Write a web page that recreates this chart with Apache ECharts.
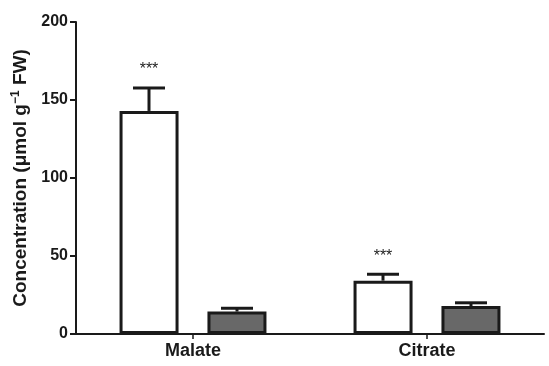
<!DOCTYPE html>
<html><head><meta charset="utf-8">
<script src="https://cdn.jsdelivr.net/npm/echarts@6/dist/echarts.min.js"></script>
<style>html,body{margin:0;padding:0;background:#fff}#c{width:549px;height:366px}</style>
</head><body><div id="c"></div>
<script>
const categories = ['Malate', 'Citrate'];
const whiteValues = [143, 34.2];
const whiteErrors = [14.7, 4.1];
const greyValues = [14.4, 17.9];
const greyErrors = [2.1, 2.1];
const significance = ['***', '***'];
const yTicks = [0, 50, 100, 150, 200];

const chart = echarts.init(document.getElementById('c'), null, {renderer: 'canvas'});
const BAR_W = 59, OFFSET = 44, CAP = 32;
const FONT = '"Liberation Sans", Arial';

function errItem(values, errors, sign, marks) {
  return function (params, api) {
    const i = api.value(0);
    const v = values[i], e = errors[i];
    const base = api.coord([i, v]);
    const top = api.coord([i, v + e]);
    const x = base[0] + sign * OFFSET;
    const children = [
      {type: 'line', shape: {x1: x, y1: base[1], x2: x, y2: top[1]}, style: {stroke: '#1a1a1a', lineWidth: 3}},
      {type: 'line', shape: {x1: x - CAP / 2, y1: top[1], x2: x + CAP / 2, y2: top[1]}, style: {stroke: '#1a1a1a', lineWidth: 3}}
    ];
    if (marks) {
      children.push({type: 'text', x: x, y: top[1] - 18, style: {text: marks[i], fill: '#222', font: '16px ' + FONT, align: 'center', verticalAlign: 'middle'}});
    }
    return {type: 'group', children: children};
  };
}

chart.setOption({
  animation: false,
  grid: {left: 76, right: 5, top: 22, bottom: 32},
  xAxis: {
    type: 'category', data: categories,
    axisLine: {lineStyle: {color: '#1a1a1a', width: 2}},
    axisTick: {show: true, alignWithLabel: true, length: 5, lineStyle: {color: '#1a1a1a', width: 1.5}},
    axisLabel: {color: '#1a1a1a', fontSize: 18, fontWeight: 'bold', fontFamily: FONT, margin: 8}
  },
  yAxis: {
    type: 'value', min: 0, max: 200, interval: 50,
    axisLine: {show: true, lineStyle: {color: '#1a1a1a', width: 2}},
    axisTick: {show: true, length: 6, lineStyle: {color: '#1a1a1a', width: 2}},
    splitLine: {show: false},
    axisLabel: {color: '#1a1a1a', fontSize: 16, fontWeight: 'bold', fontFamily: FONT, margin: 8,
      formatter: v => yTicks.includes(v) ? String(v) : ''},
    name: '{a|Concentration (μmol g}{s|−1}{a| FW)}',
    nameLocation: 'middle', nameGap: 36, nameRotate: 90,
    nameTextStyle: {
      rich: {
        a: {fontSize: 19, fontWeight: 'bold', color: '#1a1a1a', fontFamily: FONT},
        s: {fontSize: 12, fontWeight: 'bold', color: '#1a1a1a', fontFamily: FONT, verticalAlign: 'top', padding: [0, 0, 10, 0]}
      }
    }
  },
  series: [
    {type: 'bar', data: whiteValues, barWidth: BAR_W, barGap: '49%',
      itemStyle: {color: '#ffffff', borderColor: '#1a1a1a', borderWidth: 3}},
    {type: 'bar', data: greyValues, barWidth: BAR_W,
      itemStyle: {color: '#686868', borderColor: '#1a1a1a', borderWidth: 3}},
    {type: 'custom', data: categories.map((c, i) => [i]), renderItem: errItem(whiteValues, whiteErrors, -1, significance), z: 5},
    {type: 'custom', data: categories.map((c, i) => [i]), renderItem: errItem(greyValues, greyErrors, 1, null), z: 1}
  ]
});
</script></body></html>
